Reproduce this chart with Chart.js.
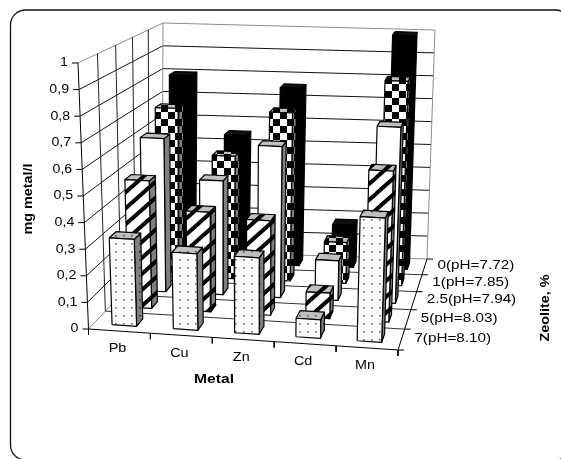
<!DOCTYPE html>
<html><head><meta charset="utf-8">
<style>html,body{margin:0;padding:0;background:#fff}canvas{display:block}</style>
<script src="https://cdn.jsdelivr.net/npm/chart.js@4"></script>
</head><body><canvas id="c" width="561" height="459"></canvas>
<script>
const metals = ['Pb','Cu','Zn','Cd','Mn'];
const zeoliteLabels = ['7(pH=8.10)','5(pH=8.03)','2.5(pH=7.94)','1(pH=7.85)','0(pH=7.72)'];
const valueTicks = ['0','0,1','0,2','0,3','0,4','0,5','0,6','0,7','0,8','0,9','1'];
const zeolite7 = [0.33,0.29,0.29,0.07,0.47];
const zeolite5 = [0.50,0.39,0.37,0.10,0.59];
const zeolite25 = [0.62,0.46,0.61,0.16,0.71];
const zeolite1 = [0.70,0.51,0.70,0.17,0.85];
const zeolite0 = [0.80,0.55,0.76,0.18,1.0];
const rows = [zeolite7, zeolite5, zeolite25, zeolite1, zeolite0];

// Projection of the 3D box (u: metal, t: zeolite depth, v: value)
const FBL=[88.5,329],FBR=[398,350],BBL=[162,251],BBR=[427,259];
const FTL=[78,63],FTR=[407,83],BTL=[163,23],BTR=[435,30];
const warp=t=>t/(t+0.84*(1-t));
function P(u,t,v){
  const d=warp(t), r=[];
  for(let k=0;k<2;k++){
    const b=(1-u)*((1-d)*FBL[k]+d*BBL[k])+u*((1-d)*FBR[k]+d*BBR[k]);
    const a=(1-u)*((1-d)*FTL[k]+d*BTL[k])+u*((1-d)*FTR[k]+d*BTR[k]);
    r[k]=(1-v)*b+v*a;
  }
  return {x:r[0],y:r[1]};
}
function tile(w,h,draw){
  const c=document.createElement('canvas');c.width=w;c.height=h;
  const g=c.getContext('2d');draw(g,w,h);
  return document.getElementById('c').getContext('2d').createPattern(c,'repeat');
}
const dots=(bg,dot)=>tile(8,8,(g,w,h)=>{g.fillStyle=bg;g.fillRect(0,0,w,h);g.fillStyle=dot;g.fillRect(3,3,1.6,1.6);});
const slash=(bg)=>tile(18,16,(g,w,h)=>{g.fillStyle=bg;g.fillRect(0,0,w,h);g.strokeStyle='#000';g.lineWidth=4;
  g.beginPath();g.moveTo(-9,8);g.lineTo(9,-8);g.moveTo(0,16);g.lineTo(18,0);g.moveTo(9,24);g.lineTo(27,8);g.stroke();});
const check=(a,b)=>tile(14,14,(g,w,h)=>{g.fillStyle=a;g.fillRect(0,0,w,h);g.fillStyle=b;g.fillRect(0,0,7,7);g.fillRect(7,7,7,7);});
const styles=[
 {front:dots('#fff','#666'),side:dots('#808080','#333'),top:dots('#c0c0c0','#555')},
 {front:slash('#fff'),side:slash('#808080'),top:slash('#c0c0c0')},
 {front:'#fff',side:'#808080',top:'#c0c0c0'},
 {front:check('#fff','#000'),side:check('#808080','#000'),top:check('#c0c0c0','#000')},
 {front:'#000',side:'#000',top:'#111'}
];
const painted=[];
function line(pts,color,width){
  painted.push({data:pts,showLine:true,fill:false,borderColor:color,borderWidth:width||1,pointRadius:0,tension:0,clip:false});
}
function face(pts,fillStyle){
  painted.push({data:[...pts,pts[0]],showLine:true,fill:'shape',backgroundColor:fillStyle,borderColor:'#000',borderWidth:1.2,pointRadius:0,tension:0,borderJoinStyle:'round',clip:false});
}
const off=(p,dx,dy)=>({x:p.x+dx,y:p.y+dy});
const GRAY='#8c8c8c';
// walls and floor
valueTicks.forEach((s,i)=>{
  const v=i/(valueTicks.length-1), c=i===valueTicks.length-1?GRAY:(i===0?GRAY:'#111');
  line([P(0,0,v),P(0,1,v),P(1,1,v)],c);
  line([off(P(0,0,v),-6,0),P(0,0,v)],'#000');
});
for(let i=1;i<=zeoliteLabels.length;i++){
  const t=i/zeoliteLabels.length;
  line([P(0,t,0),P(0,t,1)],i===zeoliteLabels.length?GRAY:'#222');
  if(i<zeoliteLabels.length) line([P(0,t,0),P(1,t,0)],'#333');
}
line([P(1,1,0),P(1,1,1)],GRAY);
line([P(0,0,0),P(0,0,1)],'#000');
line([P(0,0,0),P(1,0,0)],'#000');
line([P(1,0,0),P(1,1,0)],'#000');
for(let i=0;i<=metals.length;i++){const p=P(i/metals.length,0,0);line([p,off(p,0,6)],'#000');}
for(let i=0;i<=zeoliteLabels.length;i++){const p=P(1,i/zeoliteLabels.length,0);line([p,off(p,6,0)],'#000');}
// bars: back row first
for(let r=rows.length-1;r>=0;r--){
  const t0=(r+0.5)/rows.length-0.04,t1=t0+0.08;
  rows[r].forEach((val,m)=>{
    const u0=(m+0.3)/metals.length,u1=(m+0.7)/metals.length;
    face([P(u1,t0,0),P(u1,t1,0),P(u1,t1,val),P(u1,t0,val)],styles[r].side);
    face([P(u0,t0,val),P(u1,t0,val),P(u1,t1,val),P(u0,t1,val)],styles[r].top);
    face([P(u0,t0,0),P(u1,t0,0),P(u1,t0,val),P(u0,t0,val)],styles[r].front);
  });
}
function txt(ctx,s,x,y,font,sx,align,rot){
  ctx.save();ctx.translate(x,y);if(rot)ctx.rotate(rot);ctx.scale(sx,1);
  ctx.font=font;ctx.fillStyle='#000';ctx.textAlign=align||'center';ctx.textBaseline='middle';
  ctx.fillText(s,0,0);ctx.restore();
}
const F='"Liberation Sans", Arial, sans-serif';
const annotate={id:'annotate',
  beforeDatasetsDraw(ch){
    const g=ch.ctx;g.save();g.strokeStyle='#111';g.lineWidth=1.3;
    g.beginPath();g.roundRect(10.5,10,560,450,15);g.stroke();g.restore();
  },
  afterDraw(ch){
    const g=ch.ctx,sc=ch.scales;
    const at=p=>({x:sc.x.getPixelForValue(p.x),y:sc.y.getPixelForValue(p.y)});
    valueTicks.forEach((s,i)=>{const p=at(P(0,0,i/(valueTicks.length-1)));txt(g,s,p.x-10,p.y,'12px '+F,1.18,'right');});
    metals.forEach((s,i)=>{const p=at(P((i+0.5)/metals.length,0,0));txt(g,s,p.x-2,p.y+18,'12px '+F,1.2);});
    zeoliteLabels.forEach((s,i)=>{const p=at(P(1,(i+0.5)/zeoliteLabels.length,0));txt(g,s,p.x+13,p.y-1,'12.5px '+F,1.22,'left');});
    txt(g,'Metal',214,380,'bold 12.5px '+F,1.25);
    txt(g,'mg metal/l',29,199,'bold 12.5px '+F,1.15,'center',-Math.PI/2);
    txt(g,'Zeolite, %',546,308,'bold 12.5px '+F,1.15,'center',-Math.PI/2);
  }
};
new Chart(document.getElementById('c'),{
  type:'scatter',
  data:{datasets:painted.slice().reverse()},
  options:{responsive:false,animation:false,devicePixelRatio:1,
    layout:{padding:0},
    plugins:{legend:{display:false},tooltip:{enabled:false},title:{display:false}},
    scales:{x:{type:'linear',display:false,min:0,max:561},y:{type:'linear',display:false,min:0,max:459,reverse:true}}
  },
  plugins:[annotate]
});
</script></body></html>
